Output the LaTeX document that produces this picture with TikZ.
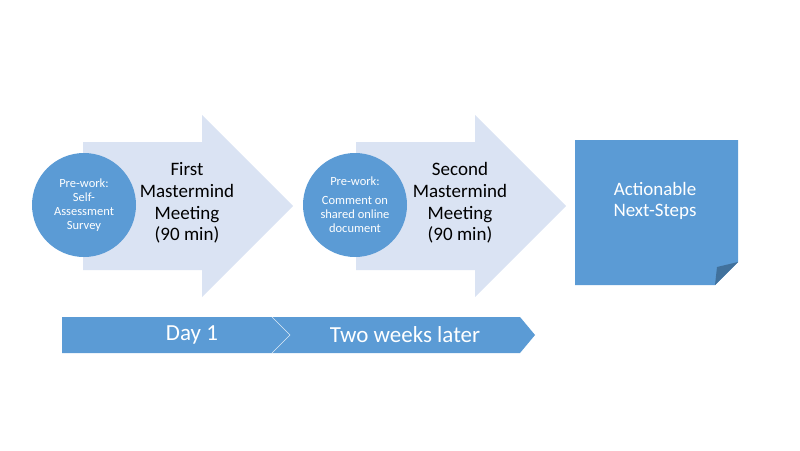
\documentclass[tikz,border=0pt]{standalone}
\usepackage{fontspec}
\setmainfont{Carlito}
\definecolor{mmblue}{HTML}{5B9BD5}
\definecolor{mmlight}{HTML}{DAE3F3}
\definecolor{mmdark}{HTML}{41719C}
\begin{document}
\begin{tikzpicture}[x=1pt,y=-1pt,
	prework/.style={circle,fill=mmblue,minimum size=104pt,inner sep=0pt,text=white,align=center,font=\fontsize{12.5}{14}\selectfont},
	meeting/.style={align=center,font=\fontsize{19}{21.7}\selectfont},
	stage/.style={text=white,font=\fontsize{23}{26}\selectfont}]
	\useasboundingbox (0,0) rectangle (800,450);
	\foreach \s in {0,273}
	\fill[mmlight,shift={(\s,0)}] (83,142)--(202,142)--(202,115)--(293,206)--(202,297)--(202,270)--(83,270)--cycle;
	\node[prework] (pre1) at (84,205) {Pre-work:\\Self-\\Assessment\\Survey};
	\node[prework] (pre2) at (355,205) {Pre-work:\\[5pt]Comment on\\shared online\\document};
	\node[meeting] (meet1) at (187,203) {First\\Mastermind\\Meeting\\(90 min)};
	\node[meeting] (meet2) at (460,203) {Second\\Mastermind\\Meeting\\(90 min)};
	\fill[mmblue] (575,140)--(738,140)--(738,262)--(715,285)--(575,285)--cycle;
	\fill[mmdark] (715,285)--(717,267)--(738,262)--cycle;
	\node[meeting,text=white] (steps) at (655,201) {Actionable\\Next-Steps};
	\fill[mmblue] (62,317)--(520,317)--(535,335)--(520,353)--(62,353)--cycle;
	\draw[white!80!mmblue,thin] (272,317)--(290,335)--(272,353);
	\node[stage] (day1) at (192,335) {Day 1};
	\node[stage] (later) at (405,335) {Two weeks later};
\end{tikzpicture}
\end{document}
